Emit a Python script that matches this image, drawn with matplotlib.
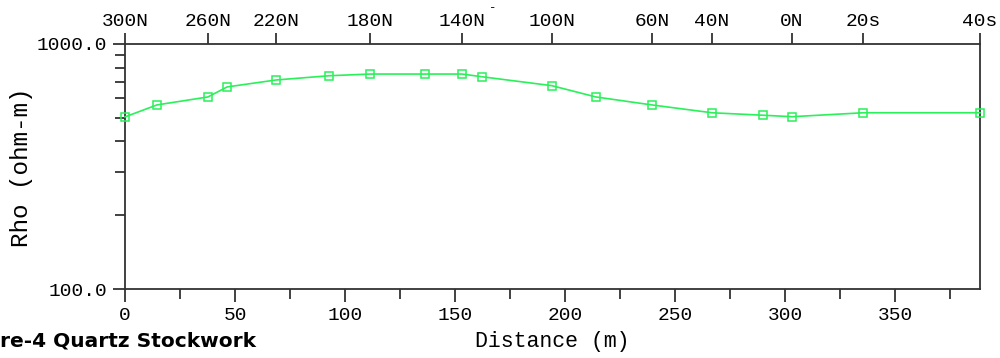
import numpy as np
import matplotlib
matplotlib.use("Agg")
import matplotlib.pyplot as plt
from matplotlib.ticker import FixedLocator, NullFormatter

# resistivity profile - distance along line (m) and apparent resistivity (ohm-m)
dist = [0, 14.5, 37.7, 46.4, 68.6, 92.7, 111.4, 136.4, 153.2, 162.3,
        194, 214, 239.5, 266.8, 290, 303.2, 335.5, 388.6]
rho = [504, 564, 608, 668, 713, 742, 754, 754, 754, 735,
       676, 608, 564, 524, 512, 505, 524, 524]

# station labels along the top
stn_pos = [0, 37.7, 68.6, 111.4, 153.2, 194, 239.5, 266.8, 303.2, 335.5, 388.6]
stn_lab = ['300N', '260N', '220N', '180N', '140N', '100N', '60N', '40N', '0N', '20s', '40s']

mono = 'Liberation Mono'
fs = 14
green = '#2af05a'
axc = '#333333'

fig = plt.figure(figsize=(10, 3.58), dpi=100)
ax = fig.add_axes([0.125, 0.1927, 0.855, 0.6844])

ax.plot(dist, rho, color=green, lw=1.2, marker='s', ms=6, mfc='none', mec=green, mew=1.1,
        clip_on=False, zorder=3)

ax.set_yscale('log')
ax.set_ylim(100, 1000)
ax.set_xlim(0, 388.6)

ax.yaxis.set_major_locator(FixedLocator([100, 1000]))
ax.set_yticklabels(['100.0', '1000.0'], fontfamily=mono, fontsize=fs)
ax.yaxis.set_minor_locator(FixedLocator([200, 300, 400, 500, 600, 700, 800, 900]))
ax.yaxis.set_minor_formatter(NullFormatter())

ax.set_xticks(np.arange(0, 351, 50))
ax.set_xticks(np.arange(25, 376, 50), minor=True)
ax.set_xticklabels([str(v) for v in range(0, 351, 50)], fontfamily=mono, fontsize=fs)

ax.tick_params(axis='both', which='major', direction='out', length=9, width=1.3, color=axc, pad=4)
ax.tick_params(axis='both', which='minor', direction='out', length=7, width=1.3, color=axc)

for s in ['left', 'bottom', 'top', 'right']:
    ax.spines[s].set_color(axc)
    ax.spines[s].set_linewidth(1.3)

top = ax.secondary_xaxis('top')
top.set_xticks(stn_pos)
top.set_xticklabels(stn_lab, fontfamily=mono, fontsize=fs)
top.tick_params(direction='out', length=8, width=1.3, color=axc, pad=2)
top.spines['top'].set_visible(False)

ax.set_xlabel('Distance (m)', fontfamily=mono, fontsize=15.5, labelpad=5)
fig.text(0.022, 0.5335, 'Rho (ohm-m)', fontfamily=mono, fontsize=17.5,
         rotation=90, ha='center', va='center')

# stray mark next to the 140N label
fig.text(0.493, 0.995, '-', fontfamily=mono, fontsize=9, ha='center', va='top')

# caption, partly cut off at the left edge in the original
fig.text(0.0, 0.047, 're-4 Quartz Stockwork', fontfamily='DejaVu Sans',
         fontweight='bold', fontsize=14.5, ha='left', va='center')

fig.savefig('out.png', dpi=100)
